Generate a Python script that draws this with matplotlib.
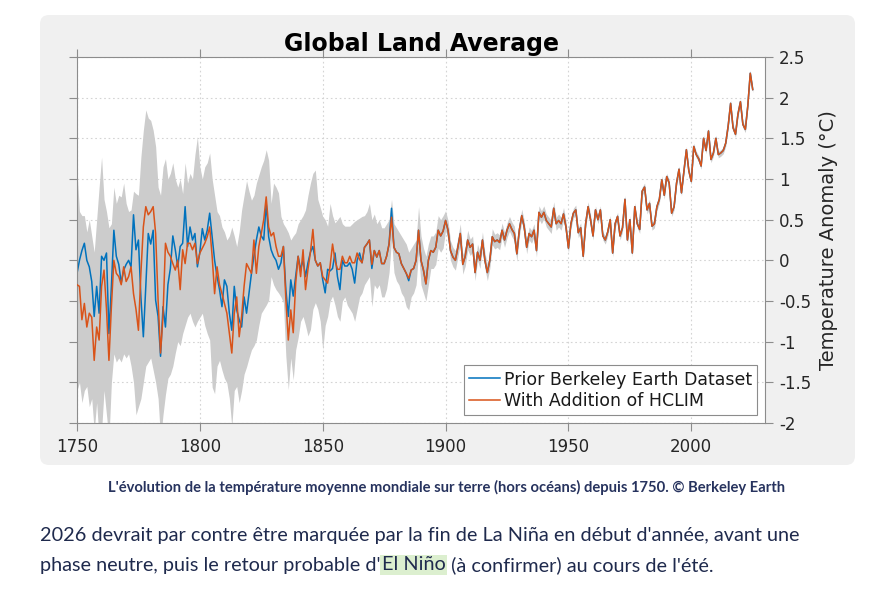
import numpy as np
import matplotlib
matplotlib.use("Agg")
import matplotlib.pyplot as plt
from matplotlib.patches import FancyBboxPatch

# annual values (1750 .. 2025)
years = np.arange(1750, 2026)

prior_1750_1899 = [
    -0.16, 0.0, 0.12, 0.21, 0.0, -0.08, -0.26, -0.69, -0.32, -0.65,
    0.05, 0.0, 0.09, -0.9, -0.32, 0.37, 0.05, -0.05, -0.28, -0.12,
    -0.05, 0.0, -0.08, 0.56, 0.13, 0.25, -0.45, -0.94, -0.32, 0.33,
    0.2, 0.37, -0.49, -0.69, -1.18, -0.57, -0.82, -0.3, -0.1, 0.3,
    0.13, -0.08, 0.17, 0.21, 0.66, 0.17, 0.41, 0.25, 0.33, -0.08,
    0.1, 0.39, 0.25, 0.37, 0.58, 0.29, 0.0, -0.2, -0.36, -0.57,
    -0.24, -0.32, -0.65, -0.86, -0.32, -0.61, -0.73, -0.82, -0.45, -0.65,
    -0.4, -0.16, 0.05, 0.25, 0.41, 0.3, 0.25, 0.7, 0.29,
    0.13, 0.05, 0.0, -0.11, -0.03, 0.17, -0.36, -0.69, -0.24, -0.44,
    -0.2, 0.05, -0.11, 0.0, -0.2, -0.03, 0.1, 0.17, 0.0, -0.07,
    -0.03, -0.24, -0.4, -0.11, -0.13, -0.1, 0.09, -0.2, -0.36, 0.0,
    -0.07, -0.07, -0.03, -0.11, -0.28, 0.0, 0.09, -0.03,
    0.16, 0.2, 0.25, -0.1, 0.12, 0.04, 0.12, -0.04, -0.04, 0.05,
    0.2, 0.64, 0.16, 0.1, 0.08, -0.04, -0.1, -0.16, -0.25, -0.12,
    -0.1, 0.0, 0.37, 0.0, -0.12, -0.29, 0.0, 0.12, 0.1, 0.16,
    0.37, 0.3, 0.36,
]

hclim_1750_1899 = [
    -0.3, -0.32, -0.73, -0.53, -0.82, -0.65, -0.7, -1.23, -0.82, -0.98,
    -0.32, -0.12, -0.6, -1.23, -0.57, 0.0, -0.16, -0.2, -0.3, -0.08,
    -0.26, -0.2, -0.08, -0.41, -0.6, -0.86, -0.16, 0.41, 0.66, 0.56,
    0.6, 0.66, 0.33, -0.49, -1.14, -0.69, 0.21, 0.1, 0.05, -0.04,
    -0.12, 0.0, -0.36, 0.13, -0.04, 0.21, 0.21, 0.13, 0.21, -0.04,
    0.09, 0.15, 0.21, 0.29, 0.41, 0.05, -0.41, -0.08, -0.3, -0.41,
    -0.53, -0.65, -0.9, -1.14, -0.65, -0.45, -0.94, -0.69, -0.32, -0.04,
    -0.1, -0.16, 0.25, -0.16, 0.17, 0.33, 0.5, 0.78, 0.41,
    0.3, 0.34, 0.17, 0.05, 0.05, 0.17, -0.48, -0.98, -0.61, -0.89,
    -0.28, 0.05, -0.2, 0.13, -0.36, -0.11, 0.1, 0.38, 0.0, -0.07,
    -0.03, -0.2, -0.24, -0.28, -0.07, 0.2, 0.0, -0.11, -0.11, 0.05,
    -0.03, -0.03, 0.05, -0.03, -0.03, 0.09, 0.01, -0.03,
    0.16, 0.2, 0.25, -0.05, 0.12, 0.04, 0.12, -0.04, -0.04, 0.05,
    0.2, 0.53, 0.16, 0.1, 0.08, -0.04, -0.1, -0.16, -0.22, -0.12,
    -0.1, 0.0, 0.37, 0.0, -0.12, -0.29, 0.0, 0.12, 0.1, 0.16,
    0.37, 0.3, 0.36,
]

# after 1900 both records are practically identical
hclim_1900_2025 = [
    0.49, 0.37, 0.12, 0.04, 0.0, 0.16, 0.33, -0.05, 0.05, 0.25,
    0.16, 0.2, -0.15, 0.1, 0.0, 0.25, 0.0, -0.15, 0.0, 0.29,
    0.23, 0.25, 0.22, 0.37, 0.25, 0.37, 0.45, 0.38, 0.33, 0.08,
    0.37, 0.55, 0.41, 0.16, 0.33, 0.29, 0.37, 0.12, 0.59, 0.53,
    0.59, 0.49, 0.45, 0.41, 0.64, 0.45, 0.49, 0.45, 0.57, 0.41,
    0.15, 0.45, 0.58, 0.62, 0.34, 0.4, 0.05, 0.45, 0.66, 0.5,
    0.3, 0.62, 0.5, 0.62, 0.3, 0.25, 0.35, 0.5, 0.09, 0.45,
    0.54, 0.3, 0.4, 0.75, 0.25, 0.5, 0.09, 0.66, 0.45, 0.38,
    0.85, 0.9, 0.62, 0.7, 0.42, 0.45, 0.66, 0.75, 0.99, 0.8,
    1.03, 0.95, 0.58, 0.66, 0.95, 1.12, 0.83, 1.1, 1.36, 1.1,
    0.97, 1.4, 1.3, 1.25, 1.16, 1.5, 1.35, 1.59, 1.24, 1.32,
    1.5, 1.3, 1.32, 1.35, 1.44, 1.65, 1.93, 1.63, 1.55, 1.8,
    1.95, 1.67, 1.61, 1.9, 2.3, 2.1,
]

band_upper_1750_1899 = [
    1.1, 0.6, 0.55, 0.55, 0.35, 0.5, 0.3, 0.1, 0.5, 0.9,
    1.27, 0.75, 0.6, 0.4, 0.45, 0.9, 0.7, 0.8, 0.78, 0.95,
    0.7, 0.6, 0.62, 0.85, 0.82, 0.8, 1.27, 1.6, 1.85, 1.75,
    1.72, 1.6, 1.4, 0.9, 0.8, 1.15, 1.25, 1.0, 1.07, 1.2,
    1.0, 0.9, 1.0, 0.82, 1.2, 0.95, 1.07, 1.0, 1.3, 1.52,
    1.15, 1.0, 1.15, 1.2, 1.32, 1.0, 0.8, 0.6, 0.55, 0.41,
    0.35, 0.25, 0.3, 0.41, 0.3, 0.17, 0.35, 0.62, 0.8, 0.98,
    0.85, 0.74, 0.8, 0.95, 1.05, 1.15, 1.23, 1.36, 1.23,
    0.7, 0.95, 0.9, 0.83, 0.54, 0.45, 0.4, 0.34, 0.25, 0.3,
    0.34, 0.45, 0.5, 0.55, 0.62, 0.8, 0.95, 1.07, 1.11, 0.75,
    0.65, 0.54, 0.5, 0.42, 0.7, 0.55, 0.46, 0.5, 0.54, 0.45,
    0.42, 0.42, 0.42, 0.45, 0.48, 0.5, 0.52, 0.54,
    0.55, 0.6, 0.7, 0.5, 0.57, 0.45, 0.5, 0.4, 0.4, 0.45,
    0.5, 0.75, 0.45, 0.4, 0.35, 0.3, 0.25, 0.2, 0.1, 0.15,
    0.2, 0.25, 0.66, 0.3, 0.15, 0.05, 0.2, 0.3, 0.3, 0.35,
    0.55, 0.5, 0.55,
]

band_lower_1750_1899 = [
    -1.6, -1.5, -1.75, -1.6, -1.55, -1.8, -1.7, -2.1, -1.75, -2.2,
    -2.1, -1.6, -1.9, -2.2, -1.5, -1.15, -1.25, -1.2, -1.25, -1.15,
    -1.2, -1.15, -1.3, -1.5, -1.9, -1.8, -1.7, -1.5, -1.3, -1.25,
    -1.2, -1.35, -1.5, -1.7, -2.2, -1.9, -1.65, -1.45, -1.4, -1.3,
    -1.14, -1.0, -1.05, -0.9, -0.8, -0.7, -0.65, -0.75, -0.82, -0.75,
    -0.7, -0.65, -0.8, -0.9, -0.98, -1.56, -1.64, -1.3, -1.23, -1.35,
    -1.45, -1.51, -1.7, -2.05, -1.6, -1.55, -1.75, -1.6, -1.4, -1.31,
    -1.2, -1.1, -1.05, -0.98, -0.8, -0.65, -0.6, -0.55, -0.49,
    -0.2, -0.3, -0.36, -0.4, -0.45, -0.52, -1.18, -1.59, -1.2, -1.47,
    -1.1, -0.95, -0.75, -0.69, -0.8, -0.93, -0.85, -0.6, -0.52, -0.6,
    -0.75, -1.1, -0.8, -0.69, -0.5, -0.44, -0.55, -0.69, -0.75, -0.5,
    -0.45, -0.55, -0.6, -0.65, -0.75, -0.6, -0.45, -0.4,
    -0.3, -0.25, -0.2, -0.57, -0.3, -0.35, -0.3, -0.45, -0.45, -0.35,
    -0.15, 0.25, -0.15, -0.25, -0.3, -0.4, -0.45, -0.57, -0.61, -0.45,
    -0.4, -0.3, 0.1, -0.3, -0.4, -0.5, -0.3, -0.1, -0.1, -0.05,
    0.15, 0.1, 0.15,
]

# half width of the grey band, one value per decade 1900s .. 2020s
band_halfwidth_decade = [0.12, 0.1, 0.09, 0.08, 0.08, 0.06, 0.05, 0.05, 0.05, 0.04, 0.04, 0.04, 0.04]

xticks = [1750, 1800, 1850, 1900, 1950, 2000]
yticks = [-2, -1.5, -1, -0.5, 0, 0.5, 1, 1.5, 2, 2.5]
ytick_labels = ["-2", "-1.5", "-1", "-0.5", "0", "0.5", "1", "1.5", "2", "2.5"]

caption = ("L'évolution de la température moyenne mondiale sur terre (hors océans) "
           "depuis 1750. © Berkeley Earth")
para_line1 = "2026 devrait par contre être marquée par la fin de La Niña en début d'année, avant une"
para_line2 = ["phase neutre, puis le retour probable d'", "El Niño", " (à confirmer) au cours de l'été."]

hclim = np.array(hclim_1750_1899 + hclim_1900_2025)
prior = np.array(prior_1750_1899 + hclim_1900_2025)
late = np.array(hclim_1900_2025)
half = np.repeat(band_halfwidth_decade, 10)[:len(late)]
upper = np.concatenate([band_upper_1750_1899, late + half])
lower = np.concatenate([band_lower_1750_1899, late - half])

W, H = 890, 590
fig = plt.figure(figsize=(W / 100, H / 100), dpi=100)
fig.patch.set_facecolor("white")

# light grey card behind the chart
card = FancyBboxPatch((40 / 100, (H - 465) / 100), 815 / 100, 450 / 100,
                      boxstyle="round,pad=0,rounding_size=0.09",
                      transform=fig.dpi_scale_trans, facecolor="#f0f0f0",
                      edgecolor="none", zorder=-5)
fig.patches.append(card)

ax = fig.add_axes([77 / W, 1 - 423 / H, (765 - 77) / W, (423 - 57) / H])
ax.set_zorder(2)
ax.set_facecolor("white")

ax.fill_between(years, lower, upper, color="#cccccc", lw=0, zorder=1)
ax.plot(years, prior, color="#0072BD", lw=1.1, label="Prior Berkeley Earth Dataset", zorder=2)
ax.plot(years, hclim, color="#D95319", lw=1.1, label="With Addition of HCLIM", zorder=3)

ax.set_xlim(1750, 2030)
ax.set_ylim(-2, 2.5)
ax.set_xticks(xticks)
ax.set_yticks(yticks)
ax.set_yticklabels(ytick_labels)
ax.yaxis.set_label_position("right")
ax.tick_params(direction="out", length=6, width=0.8, color="#8c8c8c",
               labelcolor="#262626", labelsize=12,
               top=True, bottom=True, left=True, right=True,
               labelleft=False, labelright=True)
ax.tick_params(axis="x", pad=5)
ax.tick_params(axis="y", pad=4)
for s in ax.spines.values():
    s.set_color("#8c8c8c")
    s.set_linewidth(0.8)
ax.grid(True, linestyle=(0, (1.5, 2.5)), color="#d4d4d4", lw=0.8)
ax.set_axisbelow(True)

ax.set_title("Global Land Average", fontsize=17, fontweight="bold", pad=4)
ax.set_ylabel("Temperature Anomaly (°C)", fontsize=14, color="#262626", labelpad=6)

leg = ax.legend(loc="lower right", fontsize=12.5, frameon=True, fancybox=False,
                borderaxespad=0.45, handlelength=1.8, handletextpad=0.2,
                labelspacing=0.2, borderpad=0.3, framealpha=1)
leg.get_frame().set_edgecolor("#8c8c8c")
leg.get_frame().set_linewidth(0.8)
for t in leg.get_texts():
    t.set_color("#1a1a1a")

navy = "#27335e"
fig.text(447 / W, 1 - 487 / H, caption, ha="center", va="center",
         fontsize=10.6, fontweight="bold", color=navy, family="Lato")

txt_kw = dict(fontsize=14.3, color="#1f2a4d", family="Lato", va="center")
fig.text(40 / W, 1 - 535 / H, para_line1, **txt_kw)

fig.canvas.draw()
renderer = fig.canvas.get_renderer()
x = 40
for i, piece in enumerate(para_line2):
    kw = dict(txt_kw)
    if i == 1:
        kw["bbox"] = dict(facecolor="#dcefcf", edgecolor="none", pad=1.2)
        x += 1
    t = fig.text(x / W, 1 - 565 / H, piece, **kw)
    x += t.get_window_extent(renderer).width
    if i == 1:
        x += 1

fig.savefig("out.png", dpi=100)
